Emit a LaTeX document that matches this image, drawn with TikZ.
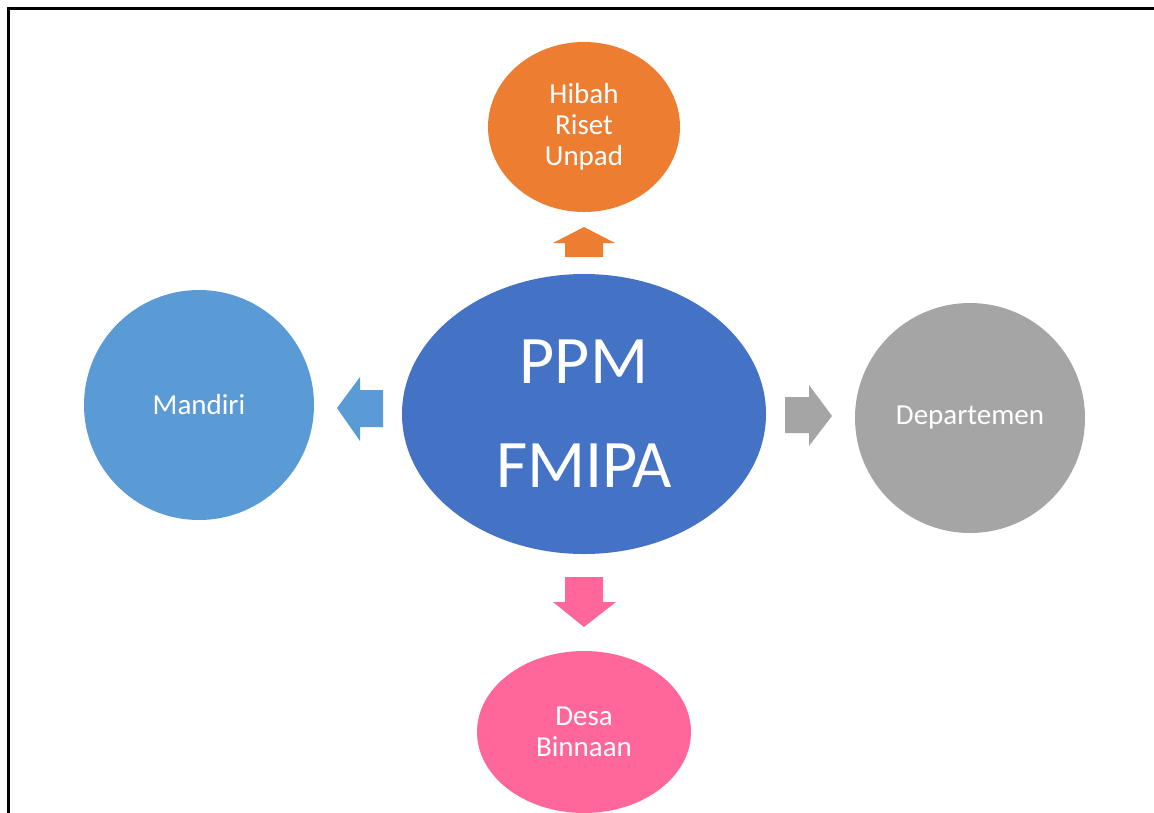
\documentclass[tikz,border=0pt]{standalone}
\usepackage{fontspec}
\setmainfont{Carlito}
\usetikzlibrary{shapes.geometric}
\definecolor{cOrange}{HTML}{ED7D31}
\definecolor{cBlue}{HTML}{4472C4}
\definecolor{cLight}{HTML}{5B9BD5}
\definecolor{cGray}{HTML}{A5A5A5}
\definecolor{cPink}{HTML}{FF6699}
\begin{document}
\begin{tikzpicture}[x=1pt,y=-1pt,
  blob/.style={ellipse, inner sep=0pt, text=white, align=center, draw=none},
  small/.style={font=\fontsize{29}{31}\selectfont},
  big/.style={font=\fontsize{68}{104}\selectfont},
  blockarrow/.style={draw=none}]
\useasboundingbox (0,0) rectangle (1154,812);
\clip (0,0) rectangle (1154,812);
\fill[white] (0,0) rectangle (1154,812);
% frame
\draw[line width=3pt, black] (8,830) -- (8,8) -- (1170,8);
% nodes
\node[blob, small, fill=cOrange, minimum width=192pt, minimum height=170pt] (hibah) at (584,127) {Hibah\\Riset\\Unpad};
\node[blob, big, fill=cBlue, minimum width=364pt, minimum height=280pt] (ppm) at (584,414) {PPM\\FMIPA};
\node[blob, small, fill=cLight, minimum width=230pt, minimum height=230pt] (mandiri) at (199,405) {Mandiri};
\node[blob, small, fill=cGray, minimum width=230pt, minimum height=230pt] (dept) at (970,418) {Departemen};
\node[blob, small, fill=cPink, minimum width=214pt, minimum height=162pt] (desa) at (584,732) {Desa\\Binnaan};
% block arrows
\fill[blockarrow, cOrange] (565,257) -- (565,243) -- (553,243) -- (584,227) -- (615,243) -- (603,243) -- (603,257) -- cycle;
\fill[blockarrow, cLight] (383,390) -- (360,390) -- (360,377) -- (337,408) -- (360,441) -- (360,427) -- (383,427) -- cycle;
\fill[blockarrow, cGray] (785,397) -- (809,397) -- (809,385) -- (832,416) -- (809,446) -- (809,433) -- (785,433) -- cycle;
\fill[blockarrow, cPink] (565,577) -- (603,577) -- (603,602) -- (616,602) -- (584,627) -- (553,602) -- (565,602) -- cycle;
\end{tikzpicture}
\end{document}
